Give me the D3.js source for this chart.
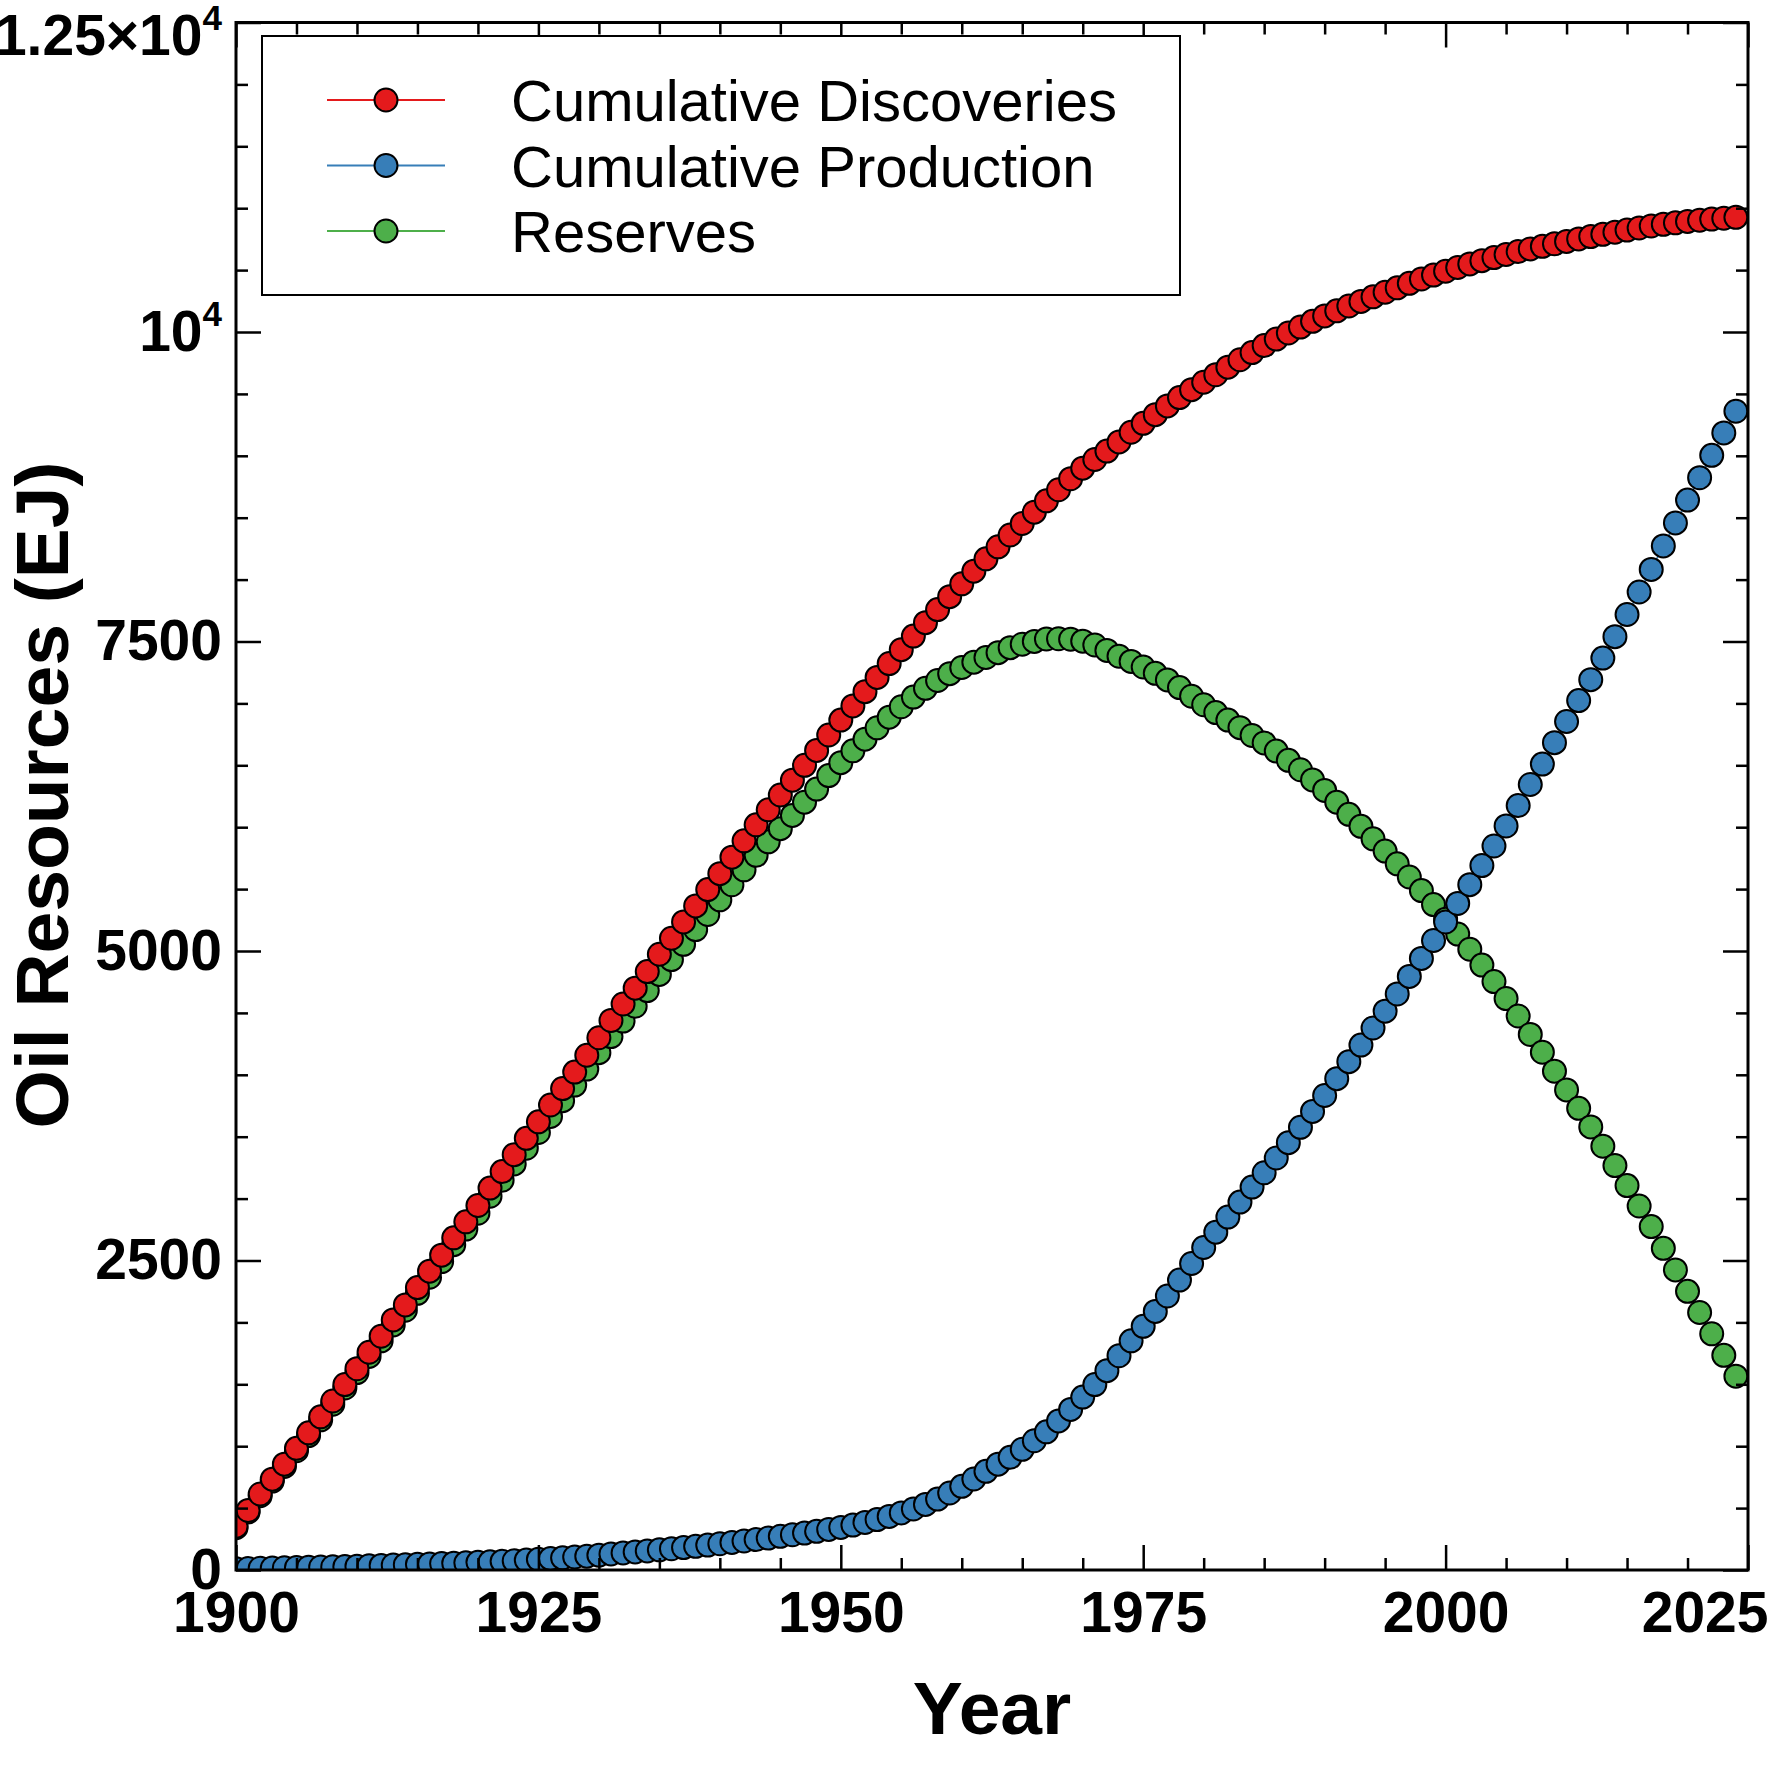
<!DOCTYPE html>
<html>
<head>
<meta charset="utf-8">
<script src="https://cdnjs.cloudflare.com/ajax/libs/d3/7.8.5/d3.min.js"></script>
<style>
  body { margin: 0; background: #fff; }
  svg { display: block; font-family: "Liberation Sans", Arial, sans-serif; }
</style>
</head>
<body>
<div id="graf"></div>
<script>
//// DATOS (EJ), UN VALOR POR AÑO DESDE 1900
const startYear = 1900
const xTicks = [1900, 1925, 1950, 1975, 2000, 2025]
const yTicks = [0, 2500, 5000, 7500, 10000, 12500]
const seriesNames = ['Cumulative Discoveries', 'Cumulative Production', 'Reserves']
const seriesColors = ['#e41a1c', '#377eb8', '#4daf4a']

const discoveries = [
  352, 481, 614, 734, 855, 983, 1108, 1237, 1365, 1498,
  1626, 1759, 1888, 2020, 2141, 2281, 2414, 2543, 2683, 2812,
  2944, 3085, 3218, 3355, 3487, 3620, 3756, 3889, 4022, 4158,
  4299, 4439, 4572, 4700, 4834, 4974, 5103, 5235, 5364, 5496,
  5625, 5758, 5890, 6019, 6140, 6260, 6380, 6500, 6620, 6745,
  6865, 6980, 7095, 7210, 7322, 7434, 7544, 7652, 7758, 7862,
  7966, 8068, 8168, 8265, 8360, 8453, 8545, 8636, 8726, 8815,
  8900, 8970, 9038, 9112, 9190, 9262, 9332, 9403, 9470, 9534,
  9594, 9655, 9716, 9776, 9834, 9890, 9943, 9992, 10040, 10086,
  10130, 10171, 10210, 10247, 10284, 10321, 10357, 10393, 10428, 10460,
  10491, 10521, 10550, 10576, 10601, 10626, 10650, 10671, 10692, 10712,
  10732, 10752, 10771, 10789, 10806, 10823, 10840, 10856, 10870, 10882,
  10893, 10903, 10912, 10919, 10926
]

const production = [
  10, 12, 14, 16, 18, 20, 22, 24, 26, 28,
  31, 34, 37, 40, 43, 46, 49, 52, 55, 58,
  62, 66, 70, 75, 80, 86, 92, 98, 105, 112,
  120, 130, 138, 146, 154, 163, 172, 181, 191, 201,
  212, 223, 234, 246, 258, 272, 285, 298, 312, 328,
  344, 363, 384, 407, 433, 461, 493, 530, 573, 622,
  676, 735, 797, 855, 910, 975, 1044, 1116, 1204, 1297,
  1397, 1498, 1610, 1731, 1851, 1968, 2089, 2213, 2342, 2476,
  2605, 2729, 2851, 2972, 3093, 3209, 3328, 3452, 3576, 3704,
  3833, 3969, 4106, 4240, 4378, 4514, 4653, 4795, 4940, 5085,
  5234, 5384, 5536, 5690, 5848, 6010, 6175, 6345, 6510, 6683,
  6854, 7023, 7192, 7366, 7539, 7718, 7900, 8082, 8272, 8458,
  8642, 8823, 9004, 9185, 9360
]

const reserves = [
  342, 469, 600, 718, 837, 963, 1086, 1213, 1339, 1470,
  1595, 1725, 1851, 1980, 2098, 2235, 2365, 2491, 2628, 2754,
  2882, 3019, 3148, 3280, 3407, 3534, 3664, 3791, 3917, 4046,
  4179, 4309, 4434, 4554, 4680, 4811, 4931, 5054, 5173, 5295,
  5413, 5535, 5656, 5773, 5882, 5988, 6095, 6202, 6308, 6417,
  6521, 6617, 6711, 6803, 6889, 6973, 7051, 7122, 7185, 7240,
  7290, 7333, 7371, 7410, 7450, 7478, 7501, 7520, 7522, 7518,
  7503, 7472, 7428, 7381, 7339, 7294, 7243, 7190, 7128, 7058,
  6989, 6926, 6865, 6804, 6741, 6681, 6615, 6540, 6464, 6382,
  6297, 6202, 6104, 6007, 5906, 5807, 5704, 5598, 5488, 5375,
  5257, 5137, 5014, 4886, 4753, 4616, 4475, 4326, 4182, 4029,
  3878, 3729, 3579, 3423, 3267, 3105, 2940, 2774, 2598, 2424,
  2251, 2080, 1908, 1734, 1566
]

//// TAMAÑOS
const ancho_total = 1771
const alto_total = 1771
const margins = { top: 22.5, left: 236, right: 23, bottom: 201 }
const ancho = ancho_total - margins.left - margins.right
const alto = alto_total - margins.top - margins.bottom

const svg = d3.select('#graf').append('svg')
  .attr('width', ancho_total)
  .attr('height', alto_total)

const g = svg.append('g')
  .attr('transform', `translate(${margins.left}, ${margins.top})`)

//// ESCALAS
const x = d3.scaleLinear().domain([1900, 2025]).range([0, ancho])
const y = d3.scaleLinear().domain([0, 12500]).range([alto, 0])

g.append('clipPath').attr('id', 'clip')
  .append('rect').attr('width', ancho).attr('height', alto)

//// SERIES (orden de dibujo: reservas, producción, descubrimientos)
const series = [
  { name: seriesNames[2], color: seriesColors[2], values: reserves },
  { name: seriesNames[1], color: seriesColors[1], values: production },
  { name: seriesNames[0], color: seriesColors[0], values: discoveries }
]

const plot = g.append('g').attr('clip-path', 'url(#clip)')
const line = d3.line()
  .x((d, i) => x(startYear + i))
  .y(d => y(d))

series.forEach(s => {
  plot.append('path')
    .attr('d', line(s.values))
    .attr('fill', 'none')
    .attr('stroke', s.color)
    .attr('stroke-width', 1.5)
  plot.append('g').selectAll('circle')
    .data(s.values)
    .join('circle')
    .attr('cx', (d, i) => x(startYear + i))
    .attr('cy', d => y(d))
    .attr('r', 11.5)
    .attr('fill', s.color)
    .attr('stroke', '#000')
    .attr('stroke-width', 2)
})

//// EJES (ticks hacia dentro en los cuatro lados)
const xMinor = d3.range(1905, 2025, 5).filter(v => v % 25 !== 0)
const yMinor = d3.range(500, 12500, 500).filter(v => v % 2500 !== 0)

function estilo(sel) {
  sel.select('.domain').remove()
  sel.selectAll('line').attr('stroke', '#000').attr('stroke-width', 2.5)
  sel.selectAll('text')
    .attr('fill', '#000')
    .attr('font-size', 57)
    .attr('font-weight', 'bold')
    .attr('font-family', '"Liberation Sans", Arial, sans-serif')
}

const xAxis = g.append('g').attr('transform', `translate(0,${alto})`)
  .call(d3.axisBottom(x).tickValues(xTicks).tickSize(-25).tickPadding(22).tickFormat(d3.format('d')))
  .call(estilo)
g.append('g').attr('transform', `translate(0,${alto})`)
  .call(d3.axisBottom(x).tickValues(xMinor).tickSize(-12).tickFormat(''))
  .call(estilo)
g.append('g')
  .call(d3.axisTop(x).tickValues(xTicks).tickSize(-25).tickFormat(''))
  .call(estilo)
g.append('g')
  .call(d3.axisTop(x).tickValues(xMinor).tickSize(-12).tickFormat(''))
  .call(estilo)

// 2025 desplazado para que quepa en la imagen
xAxis.selectAll('.tick').filter(d => d === 2025).select('text')
  .attr('text-anchor', 'end').attr('x', 20)

const yAxis = g.append('g')
  .call(d3.axisLeft(y).tickValues(yTicks).tickSize(-25).tickPadding(14).tickFormat(d3.format('d')))
  .call(estilo)
g.append('g')
  .call(d3.axisLeft(y).tickValues(yMinor).tickSize(-12).tickFormat(''))
  .call(estilo)
g.append('g').attr('transform', `translate(${ancho},0)`)
  .call(d3.axisRight(y).tickValues(yTicks).tickSize(-25).tickFormat(''))
  .call(estilo)
g.append('g').attr('transform', `translate(${ancho},0)`)
  .call(d3.axisRight(y).tickValues(yMinor).tickSize(-12).tickFormat(''))
  .call(estilo)

// etiquetas con potencia de diez
yAxis.selectAll('.tick').each(function(d) {
  if (d === 12500 || d === 10000) {
    const t = d3.select(this).select('text').text(d === 12500 ? '1.25×10' : '10')
    t.append('tspan').attr('font-size', 35).attr('dy', -25).text('4')
    if (d === 12500) t.attr('transform', 'translate(0,14)')
  }
})

g.append('rect')
  .attr('width', ancho).attr('height', alto)
  .attr('fill', 'none').attr('stroke', '#000').attr('stroke-width', 3)

//// TÍTULOS
svg.append('text')
  .attr('transform', 'translate(68,795) rotate(-90)')
  .attr('text-anchor', 'middle')
  .attr('font-size', 75).attr('font-weight', 'bold')
  .text('Oil Resources (EJ)')

svg.append('text')
  .attr('x', margins.left + ancho / 2).attr('y', 1734)
  .attr('text-anchor', 'middle')
  .attr('font-size', 75).attr('font-weight', 'bold')
  .text('Year')

//// LEYENDA
const leyenda = svg.append('g').attr('transform', 'translate(262,36)')
leyenda.append('rect')
  .attr('width', 918).attr('height', 259)
  .attr('fill', '#fff').attr('stroke', '#000').attr('stroke-width', 2)

seriesNames.forEach((name, i) => {
  const row = leyenda.append('g').attr('transform', `translate(0,${64 + i * 65.5})`)
  row.append('line')
    .attr('x1', 65).attr('x2', 183)
    .attr('stroke', seriesColors[i]).attr('stroke-width', 2)
  row.append('circle')
    .attr('cx', 124).attr('r', 11.5)
    .attr('fill', seriesColors[i]).attr('stroke', '#000').attr('stroke-width', 2)
  row.append('text')
    .attr('x', 249).attr('y', 21)
    .attr('font-size', 58)
    .text(name)
})
</script>
</body>
</html>
